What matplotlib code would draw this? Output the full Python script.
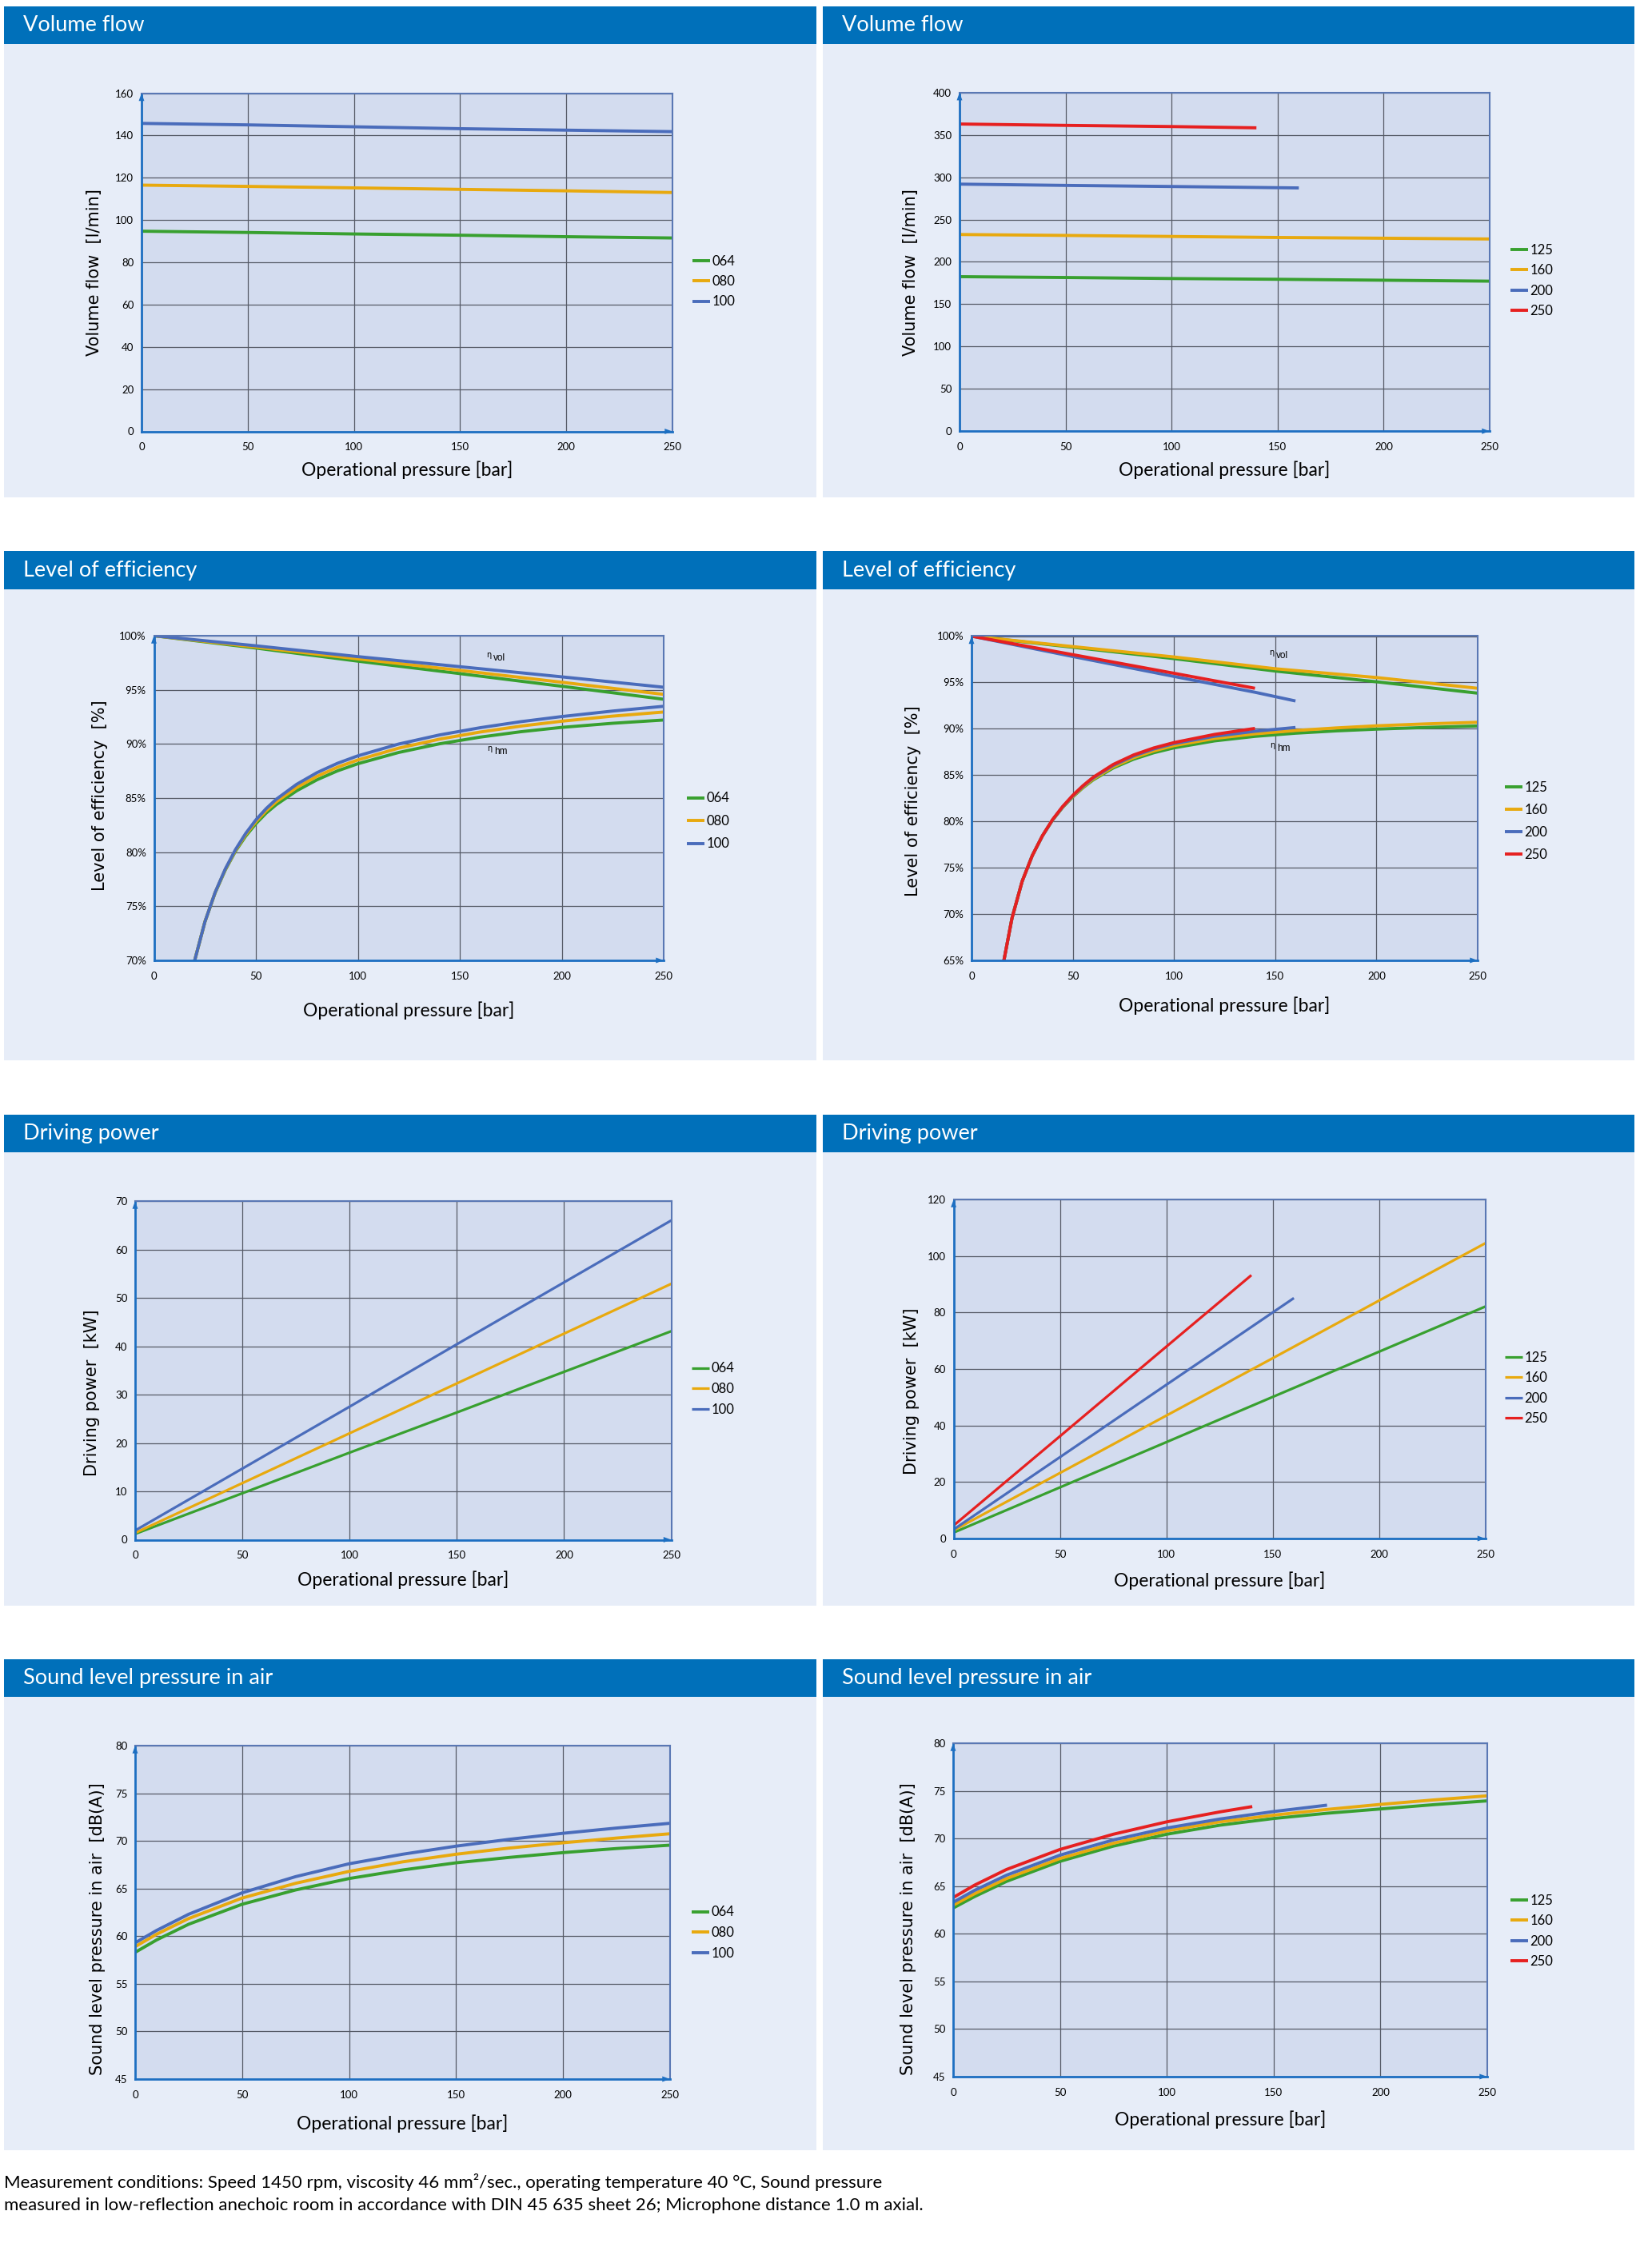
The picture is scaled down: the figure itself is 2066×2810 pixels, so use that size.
import matplotlib
matplotlib.use('Agg')
import matplotlib.pyplot as plt
from matplotlib.patches import Rectangle

# ---- data ------------------------------------------------------------------
LEFT_SIZES = ['064', '080', '100']
RIGHT_SIZES = ['125', '160', '200', '250']

# volume flow [l/min]
vol_p = [0, 50, 100, 150, 200, 250]
vol_064 = [94.7, 94.1, 93.4, 92.8, 92.1, 91.5]
vol_080 = [116.5, 115.9, 115.2, 114.5, 113.8, 113.0]
vol_100 = [145.7, 145.0, 144.1, 143.2, 142.5, 141.8]
vol_125 = [182.5, 181.5, 180.3, 179.4, 178.3, 177.2]
vol_160 = [232.3, 231.2, 230.0, 228.8, 227.9, 227.0]
vol_200_p = [0, 50, 100, 160]
vol_200 = [291.8, 290.3, 289.0, 287.3]
vol_250_p = [0, 50, 100, 140]
vol_250 = [362.8, 361.2, 359.8, 358.3]

# efficiency [%], eta_vol and eta_hm
etavol_p = [0, 50, 100, 150, 200, 250]
etavol_064 = [100, 98.86, 97.65, 96.5, 95.33, 94.13]
etavol_080 = [100, 98.95, 97.86, 96.8, 95.7, 94.58]
etavol_100 = [100, 99.07, 98.07, 97.14, 96.2, 95.24]
etahm_p = [20, 25, 30, 35, 40, 45, 50, 55, 60, 70, 80, 90, 100, 120, 140, 160, 180, 200, 225, 250]
etahm_064 = [70.0, 73.56, 76.23, 78.35, 80.09, 81.48, 82.63, 83.60, 84.39, 85.67, 86.69, 87.51,
             88.17, 89.21, 90.01, 90.63, 91.13, 91.53, 91.91, 92.21]
etahm_080 = [70.0, 73.56, 76.26, 78.40, 80.16, 81.61, 82.81, 83.82, 84.65, 85.97, 87.01, 87.85,
             88.52, 89.61, 90.44, 91.10, 91.65, 92.10, 92.57, 92.95]
etahm_100 = [70.0, 73.56, 76.28, 78.45, 80.24, 81.73, 82.98, 84.02, 84.89, 86.27, 87.35, 88.21,
             88.90, 89.99, 90.83, 91.50, 92.06, 92.53, 93.04, 93.48]

etavol_125 = [100, 98.8, 97.57, 96.23, 95.07, 93.84]
etavol_160 = [100, 98.87, 97.75, 96.48, 95.53, 94.37]
etavol_200_p = [0, 50, 100, 140, 160]
etavol_200 = [100, 97.8, 95.65, 93.94, 93.0]
etavol_250_p = [0, 50, 100, 140]
etavol_250 = [100, 98.0, 95.99, 94.37]
etahm_r_p = [16, 20, 25, 30, 35, 40, 45, 50, 55, 60, 70, 80, 90, 100, 120, 140, 160, 180, 200, 225, 250]
etahm_125 = [65.0, 69.57, 73.53, 76.31, 78.43, 80.14, 81.51, 82.65, 83.63, 84.47, 85.77, 86.71,
             87.41, 87.94, 88.69, 89.18, 89.52, 89.77, 89.96, 90.15, 90.30]
etahm_160 = [65.0, 69.57, 73.53, 76.31, 78.43, 80.14, 81.53, 82.69, 83.69, 84.55, 85.89, 86.87,
             87.61, 88.18, 88.95, 89.45, 89.81, 90.09, 90.32, 90.53, 90.70]
etahm_200 = [65.0, 69.57, 73.53, 76.31, 78.43, 80.16, 81.56, 82.75, 83.78, 84.67, 86.05, 87.06,
             87.82, 88.40, 89.19, 89.73, 90.14]
etahm_250 = [65.0, 69.57, 73.53, 76.31, 78.45, 80.19, 81.61, 82.81, 83.85, 84.75, 86.15, 87.17,
             87.93, 88.51, 89.39, 90.04]

# driving power [kW]
pow_p = [0, 50, 100, 150, 200, 250]
pow_064 = [1.2, 9.6, 18.0, 26.3, 34.7, 43.1]
pow_080 = [1.4, 11.7, 22.0, 32.3, 42.6, 52.9]
pow_100 = [1.9, 14.7, 27.5, 40.4, 53.2, 66.0]
pow_125 = [2.1, 18.1, 34.1, 50.1, 66.1, 82.1]
pow_160 = [2.9, 23.2, 43.5, 63.8, 84.2, 104.5]
pow_200_p = [0, 50, 100, 160]
pow_200 = [3.2, 28.8, 54.4, 85.1]
pow_250_p = [0, 50, 100, 140]
pow_250 = [4.6, 36.2, 67.9, 93.2]

# sound pressure [dB(A)]
snd_p = [0, 10, 25, 50, 75, 100, 125, 150, 175, 200, 225, 250]
snd_064 = [58.3, 59.6, 61.25, 63.35, 64.85, 66.05, 66.95, 67.7, 68.27, 68.77, 69.2, 69.55]
snd_080 = [58.9, 60.2, 61.85, 64.0, 65.55, 66.8, 67.8, 68.6, 69.25, 69.8, 70.3, 70.75]
snd_100 = [59.3, 60.6, 62.3, 64.55, 66.25, 67.6, 68.6, 69.45, 70.17, 70.8, 71.35, 71.85]
snd_125 = [62.7, 63.9, 65.5, 67.6, 69.2, 70.45, 71.4, 72.1, 72.65, 73.1, 73.55, 73.95]
snd_160 = [63.0, 64.2, 65.8, 67.9, 69.5, 70.8, 71.75, 72.45, 73.05, 73.58, 74.05, 74.48]
snd_200_p = [0, 10, 25, 50, 75, 100, 125, 150, 175]
snd_200 = [63.3, 64.55, 66.15, 68.25, 69.85, 71.1, 72.05, 72.83, 73.5]
snd_250_p = [0, 10, 25, 50, 75, 100, 125, 140]
snd_250 = [63.8, 65.1, 66.75, 68.85, 70.45, 71.75, 72.8, 73.35]

FOOTNOTE = ['Measurement conditions: Speed 1450 rpm, viscosity 46 mm\u00b2/sec., operating temperature 40 \u00b0C, Sound pressure',
            'measured in low-reflection anechoic room in accordance with DIN 45 635 sheet 26; Microphone distance 1.0 m axial.']

# ---- style -----------------------------------------------------------------
COLORS = {'064': '#38A02F', '080': '#E8A90E', '100': '#4A6CBB',
          '125': '#38A02F', '160': '#E8A90E', '200': '#4A6CBB', '250': '#E62020'}
HEADER = '#0070BA'
PANEL_BG = '#E7EDF8'
AX_BG = '#D3DCEF'
AXIS_BLUE = '#1D6FC2'
GRID = '#555A66'
TXT = 'Lato'

W, H = 2066, 2810
fig = plt.figure(figsize=(W / 100, H / 100), dpi=100)
fig.patch.set_facecolor('white')


def fig_rect(l, t, r, b, color):
    fig.add_artist(Rectangle((l / W, 1 - b / H), (r - l) / W, (b - t) / H,
                             transform=fig.transFigure, facecolor=color,
                             edgecolor='none', zorder=-10))


def panel(col, row_top, row_head, row_bot, title):
    l, r = (5, 1021) if col == 0 else (1029, 2044)
    fig_rect(l, row_head, r, row_bot, PANEL_BG)
    fig_rect(l, row_top, r, row_head, HEADER)
    fig.text((l + 24) / W, 1 - (row_top + row_head) / 2 / H, title, color='white',
             fontsize=19.5, family=TXT, va='center', ha='left')


def make_axes(box, ylim, yticks, ylabel, ylab_pos, xpad, fmt='{:g}'):
    l, t, r, b = box
    ax = fig.add_axes([l / W, 1 - b / H, (r - l) / W, (b - t) / H])
    ax.set_facecolor(AX_BG)
    ax.set_xlim(0, 250)
    ax.set_ylim(*ylim)
    ax.set_xticks([0, 50, 100, 150, 200, 250])
    ax.set_yticks(yticks)
    ax.set_yticklabels([fmt.format(v) for v in yticks])
    ax.tick_params(length=0, labelsize=9.5, colors='black')
    ax.tick_params(axis='x', pad=10)
    ax.tick_params(axis='y', pad=7)
    for lab in ax.get_xticklabels() + ax.get_yticklabels():
        lab.set_family(TXT)
    ax.grid(True, color=GRID, lw=0.9)
    ax.set_axisbelow(True)
    for side in ['top', 'right']:
        ax.spines[side].set_color('#5A78B4')
        ax.spines[side].set_linewidth(1.5)
    for side in ['left', 'bottom']:
        ax.spines[side].set_color(AXIS_BLUE)
        ax.spines[side].set_linewidth(2)
    arrow = dict(arrowstyle='-|>,head_length=0.7,head_width=0.25', color=AXIS_BLUE,
                 lw=0, shrinkA=0, shrinkB=0, mutation_scale=10)
    ax.annotate('', xy=(1, 0), xytext=(0.95, 0), xycoords='axes fraction', arrowprops=arrow)
    ax.annotate('', xy=(0, 1), xytext=(0, 0.95), xycoords='axes fraction', arrowprops=arrow)
    ax.set_xlabel('Operational pressure [bar]', fontsize=16.5, family=TXT, labelpad=xpad)
    fig.text(ylab_pos[0] / W, 1 - ylab_pos[1] / H, ylabel, rotation=90, fontsize=15,
             family='DejaVu Sans', ha='center', va='center')
    return ax


def add_legend(ax, handles, labels, x, y, spacing=0.57):
    ax.legend(handles, labels, loc='center left', bbox_to_anchor=(x / W, 1 - y / H),
              bbox_transform=fig.transFigure, frameon=False, borderpad=0,
              borderaxespad=0, handlelength=1.3, handletextpad=0.15,
              labelspacing=spacing, prop={'family': TXT, 'size': 12})


def eta_label(ax, x, y, sub):
    ax.annotate('\u03b7', xy=(x, y), xytext=(0, 3), textcoords='offset points',
                fontsize=7, family='DejaVu Sans', va='center', ha='left')
    ax.annotate(sub, xy=(x, y), xytext=(6, 0), textcoords='offset points',
                fontsize=8.5, family='Liberation Sans', va='center', ha='left')


LW = 2.8

# ---- row 1: volume flow ------------------------------------------------------
panel(0, 8, 55, 622, 'Volume flow')
panel(1, 8, 55, 622, 'Volume flow')

ax = make_axes((177, 116.5, 841, 539.5), (0, 160), range(0, 161, 20),
               'Volume flow  [l/min]', (118, 341), xpad=8)
hs = []
for name, vals in zip(LEFT_SIZES, [vol_064, vol_080, vol_100]):
    hs += ax.plot(vol_p, vals, color=COLORS[name], lw=LW, solid_capstyle='butt')
add_legend(ax, hs, LEFT_SIZES, 866, 352)

ax = make_axes((1200, 115.7, 1863, 539.2), (0, 400), range(0, 401, 50),
               'Volume flow  [l/min]', (1139, 341), xpad=8)
hs = []
for name, ps, vals in zip(RIGHT_SIZES, [vol_p, vol_p, vol_200_p, vol_250_p],
                          [vol_125, vol_160, vol_200, vol_250]):
    hs += ax.plot(ps, vals, color=COLORS[name], lw=LW, solid_capstyle='butt')
add_legend(ax, hs, RIGHT_SIZES, 1889, 351)

# ---- row 2: efficiency -------------------------------------------------------
panel(0, 689, 737, 1326, 'Level of efficiency')
panel(1, 689, 737, 1326, 'Level of efficiency')

ax = make_axes((192.5, 795, 830, 1201), (70, 100), range(70, 101, 5),
               'Level of efficiency  [%]', (125, 995), xpad=18, fmt='{:d}%')
hs = []
for name, v, h in zip(LEFT_SIZES, [etavol_064, etavol_080, etavol_100],
                      [etahm_064, etahm_080, etahm_100]):
    ax.plot(etavol_p, v, color=COLORS[name], lw=LW, solid_capstyle='butt')
    hs += ax.plot(etahm_p, h, color=COLORS[name], lw=LW, solid_capstyle='butt')
eta_label(ax, 163, 97.9, 'vol')
eta_label(ax, 163.5, 89.3, 'hm')
add_legend(ax, hs, LEFT_SIZES, 859, 1027, spacing=0.75)

ax = make_axes((1215, 795.5, 1848, 1201), (65, 100), range(65, 101, 5),
               'Level of efficiency  [%]', (1142, 1002), xpad=14, fmt='{:d}%')
hs = []
vol_sets = [(etavol_p, etavol_125), (etavol_p, etavol_160),
            (etavol_200_p, etavol_200), (etavol_250_p, etavol_250)]
hm_sets = [etahm_125, etahm_160, etahm_200, etahm_250]
for name, (pv, v), h in zip(RIGHT_SIZES, vol_sets, hm_sets):
    ax.plot(pv, v, color=COLORS[name], lw=LW, solid_capstyle='butt')
    hs += ax.plot(etahm_r_p[:len(h)], h, color=COLORS[name], lw=LW, solid_capstyle='butt')
eta_label(ax, 147, 97.85, 'vol')
eta_label(ax, 147.5, 87.85, 'hm')
add_legend(ax, hs, RIGHT_SIZES, 1882, 1027, spacing=0.72)

# ---- row 3: driving power ----------------------------------------------------
panel(0, 1394, 1441, 2008, 'Driving power')
panel(1, 1394, 1441, 2008, 'Driving power')

ax = make_axes((169, 1502, 839.5, 1925.5), (0, 70), range(0, 71, 10),
               'Driving power  [kW]', (115, 1742), xpad=9.5)
hs = []
for name, vals in zip(LEFT_SIZES, [pow_064, pow_080, pow_100]):
    hs += ax.plot(pow_p, vals, color=COLORS[name], lw=2.3, solid_capstyle='butt')
add_legend(ax, hs, LEFT_SIZES, 865, 1737)

ax = make_axes((1192.6, 1500, 1857.5, 1924), (0, 120), range(0, 121, 20),
               'Driving power  [kW]', (1139.5, 1740), xpad=11)
hs = []
for name, ps, vals in zip(RIGHT_SIZES, [pow_p, pow_p, pow_200_p, pow_250_p],
                          [pow_125, pow_160, pow_200, pow_250]):
    hs += ax.plot(ps, vals, color=COLORS[name], lw=2.3, solid_capstyle='butt')
add_legend(ax, hs, RIGHT_SIZES, 1882, 1736)

# ---- row 4: sound pressure ---------------------------------------------------
panel(0, 2075, 2122, 2689, 'Sound level pressure in air')
panel(1, 2075, 2122, 2689, 'Sound level pressure in air')

ax = make_axes((169, 2183, 838, 2600), (45, 80), range(45, 81, 5),
               'Sound level pressure in air  [dB(A)]', (121.5, 2412), xpad=13)
hs = []
for name, vals in zip(LEFT_SIZES, [snd_064, snd_080, snd_100]):
    hs += ax.plot(snd_p, vals, color=COLORS[name], lw=LW, solid_capstyle='butt')
add_legend(ax, hs, LEFT_SIZES, 865, 2417)

ax = make_axes((1192, 2180, 1860, 2597), (45, 80), range(45, 81, 5),
               'Sound level pressure in air  [dB(A)]', (1136.5, 2412), xpad=12)
hs = []
for name, ps, vals in zip(RIGHT_SIZES, [snd_p, snd_p, snd_200_p, snd_250_p],
                          [snd_125, snd_160, snd_200, snd_250]):
    hs += ax.plot(ps, vals, color=COLORS[name], lw=LW, solid_capstyle='butt')
add_legend(ax, hs, RIGHT_SIZES, 1889, 2415)

# ---- footnote ----------------------------------------------------------------
for i, line in enumerate(FOOTNOTE):
    fig.text(5 / W, 1 - (2729 + 29 * i) / H, line, fontsize=16, family=TXT,
             ha='left', va='center')

fig.savefig('out.png', dpi=100)
